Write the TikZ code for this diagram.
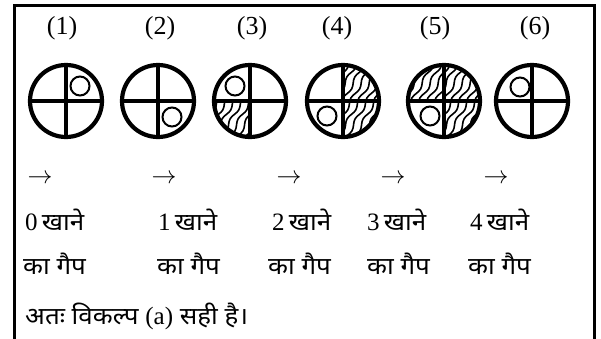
\documentclass[tikz,border=0pt]{standalone}
\usepackage{fontspec}
\setmainfont{Liberation Serif}
\newfontfamily\hin[Script=Devanagari,FakeStretch=1.08]{Noto Sans}
\usetikzlibrary{calc,decorations.pathmorphing}
\newcommand\hatchq[3]{%
  \begin{scope}
    \clip (#1) circle (36pt);
    \clip (#1) rectangle ++(#2*40,#3*40);
    \foreach \k in {-8,...,8}
      \draw[hatchline] ($(#1)+(\k*8-26,46)$) -- ++(52,-92);
  \end{scope}}
\newcommand\ringfig[3]{%
  \draw[ringline] (#1) circle (36pt);
  \draw[crossline] ($(#1)+(-36,0)$) -- ($(#1)+(36,0)$);
  \draw[crossline] ($(#1)+(0,-36)$) -- ($(#1)+(0,36)$);
  \draw[smallring] ($(#1)+(#2,#3)$) circle (9.5pt);}
\begin{document}
\begin{tikzpicture}[x=1pt,y=-1pt,
  lbl/.style={font=\fontsize{26}{30}\selectfont, inner sep=0pt},
  txt/.style={font=\fontsize{25}{30}\selectfont, inner sep=0pt, anchor=base west},
  hn/.style={font=\fontsize{24}{28}\selectfont\hin, inner sep=0pt, anchor=base west},
  ringline/.style={line width=4.2pt},
  crossline/.style={line width=3.6pt},
  smallring/.style={line width=2pt, fill=white},
  hatchline/.style={line width=1.6pt, decorate,
    decoration={snake, segment length=24pt, amplitude=1.6pt}}]
\useasboundingbox (0,0) rectangle (601,338);
\draw[line width=3pt] (14,345) -- (14,5.5) -- (594,5.5) -- (594,345);
% centres
\coordinate (c1) at (66,101);
\coordinate (c2) at (158,101);
\coordinate (c3) at (250,101);
\coordinate (c4) at (343,101);
\coordinate (c5) at (444,101);
\coordinate (c6) at (532,101);
% hatching
\hatchq{c3}{-1}{1}
\hatchq{c4}{1}{-1}
\hatchq{c4}{1}{1}
\hatchq{c5}{-1}{-1}
\hatchq{c5}{1}{-1}
\hatchq{c5}{1}{1}
% figures
\ringfig{c1}{14}{-15}
\ringfig{c2}{14}{16}
\ringfig{c3}{-15}{-15}
\ringfig{c4}{-16}{15}
\ringfig{c5}{-14}{15}
\ringfig{c6}{-12}{-14}
% labels
\node[lbl] (l1) at (62,28) {(1)};
\node[lbl] (l2) at (160,28) {(2)};
\node[lbl] (l3) at (252,28) {(3)};
\node[lbl] (l4) at (337,28) {(4)};
\node[lbl] (l5) at (435,28) {(5)};
\node[lbl] (l6) at (535,28) {(6)};
% arrows
\node[lbl] (a1) at (40,179) {$\rightarrow$};
\node[lbl] (a2) at (164,179) {$\rightarrow$};
\node[lbl] (a3) at (289,179) {$\rightarrow$};
\node[lbl] (a4) at (393,179) {$\rightarrow$};
\node[lbl] (a5) at (496,179) {$\rightarrow$};
% row 1
\node[txt] (g0) at (25,230) {0\,{\hin\fontsize{24}{28}\selectfont खाने}};
\node[txt] (g1) at (158,230) {1\,{\hin\fontsize{24}{28}\selectfont खाने}};
\node[txt] (g2) at (272,230) {2\,{\hin\fontsize{24}{28}\selectfont खाने}};
\node[txt] (g3) at (367,230) {3\,{\hin\fontsize{24}{28}\selectfont खाने}};
\node[txt] (g4) at (470,230) {4\,{\hin\fontsize{24}{28}\selectfont खाने}};
% row 2
\node[hn] (k0) at (23,274) {का गैप};
\node[hn] (k1) at (157,274) {का गैप};
\node[hn] (k2) at (268,274) {का गैप};
\node[hn] (k3) at (367,274) {का गैप};
\node[hn] (k4) at (468,274) {का गैप};
% row 3
\node[hn] (ans) at (25,324) {अतः विकल्प {\rmfamily\fontsize{25}{30}\selectfont (a)} सही है।};
\end{tikzpicture}
\end{document}
